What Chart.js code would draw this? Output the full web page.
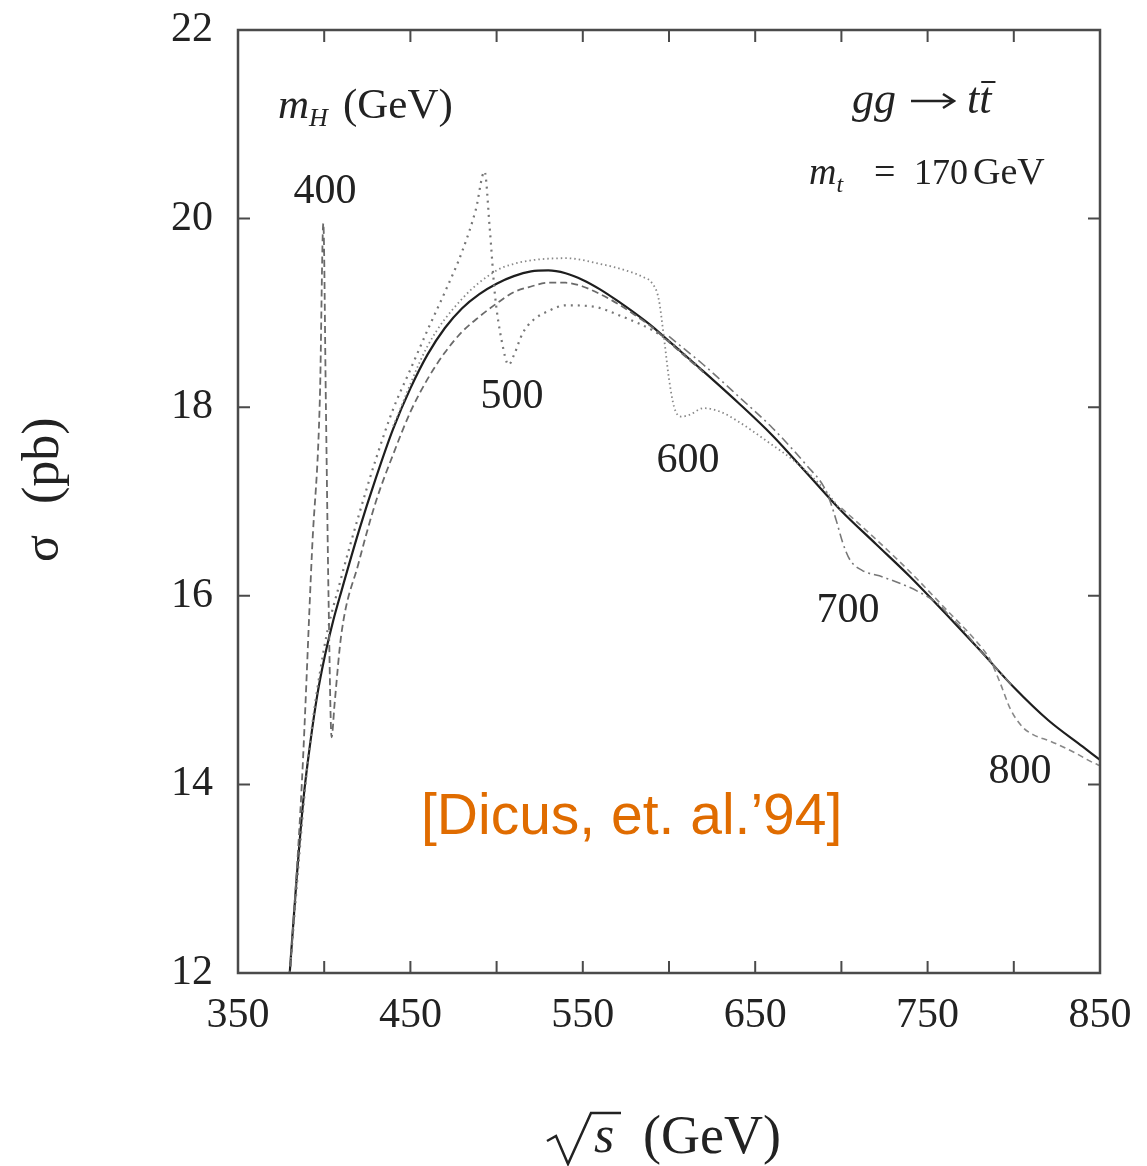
<!DOCTYPE html>
<html>
<head>
<meta charset="utf-8">
<script src="https://cdn.jsdelivr.net/npm/chart.js@4.4.1/dist/chart.umd.min.js"></script>
<style>
  html, body { margin: 0; padding: 0; background: #fff; }
</style>
</head>
<body>
<canvas id="chart" width="1147" height="1166"></canvas>
<script>
// sqrt(s) in GeV, sigma in pb
var sBase     = [380, 384, 388, 392, 396, 400, 405, 410, 420, 430, 440, 450, 460, 470, 480, 490, 500, 510, 520, 530, 540, 550, 560, 570, 580, 590, 600, 620, 640, 660, 680, 700, 720, 740, 760, 780, 800, 820, 840, 850];
var sigmaBase = [12.0, 13.0, 13.85, 14.45, 14.95, 15.33, 15.72, 16.05, 16.68, 17.25, 17.77, 18.2, 18.56, 18.84, 19.05, 19.2, 19.31, 19.39, 19.44, 19.45, 19.42, 19.35, 19.25, 19.13, 19.0, 18.86, 18.7, 18.38, 18.05, 17.7, 17.3, 16.9, 16.55, 16.2, 15.82, 15.43, 15.03, 14.68, 14.4, 14.26];

var s400     = [380, 387, 393, 397.5, 399.5, 401, 402.5, 404.3, 406, 410, 420, 430, 440, 450, 460, 470, 480, 490, 500, 510, 520, 530, 540, 550, 560, 570, 580, 590, 600, 620];
var sigma400 = [11.95, 14.0, 16.5, 18.1, 19.95, 18.0, 16.0, 14.5, 14.85, 15.6, 16.35, 17.0, 17.5, 17.95, 18.3, 18.58, 18.8, 18.96, 19.1, 19.22, 19.28, 19.32, 19.32, 19.28, 19.2, 19.1, 18.98, 18.85, 18.69, 18.37];

var s500     = [380, 390, 400, 410, 420, 430, 440, 450, 460, 470, 480, 488, 493, 496, 499, 503, 507, 510, 515, 521, 530, 540, 555, 573, 590, 600, 620];
var sigma500 = [12.0, 14.15, 15.45, 16.2, 16.85, 17.45, 17.98, 18.4, 18.82, 19.22, 19.65, 20.1, 20.5, 19.9, 19.2, 18.7, 18.45, 18.55, 18.78, 18.92, 19.02, 19.08, 19.07, 18.96, 18.82, 18.7, 18.38];

var s600     = [440, 460, 480, 500, 510, 521, 540, 560, 575, 585, 590, 594, 597, 600, 603, 607, 612, 620, 630, 640, 656, 676, 690, 700];
var sigma600 = [17.8, 18.65, 19.15, 19.45, 19.52, 19.56, 19.58, 19.52, 19.45, 19.38, 19.32, 19.15, 18.75, 18.3, 18.0, 17.9, 17.92, 17.99, 17.95, 17.85, 17.65, 17.38, 17.13, 16.9];

var s700     = [600, 620, 640, 660, 680, 690, 693.5, 697, 701, 705, 712, 724, 744, 757, 763, 770, 780, 800];
var sigma700 = [18.75, 18.45, 18.12, 17.78, 17.38, 17.15, 17.0, 16.8, 16.55, 16.38, 16.27, 16.2, 16.05, 15.9, 15.78, 15.65, 15.43, 15.03];

var s800     = [700, 720, 740, 760, 780, 786, 792, 798, 805, 812, 821, 836, 846, 850];
var sigma800 = [16.93, 16.6, 16.25, 15.87, 15.48, 15.33, 15.08, 14.8, 14.61, 14.52, 14.46, 14.33, 14.23, 14.2];

var xTicks = [350, 450, 550, 650, 750, 850];
var yTicks = [12, 14, 16, 18, 20, 22];
var higgsMasses = ['400', '500', '600', '700', '800'];

function pts(xs, ys) {
	return xs.map(function(x, i) { return {x: x, y: ys[i]}; });
}

var SERIF = '"Liberation Serif", "Times New Roman", serif';
var SANS = '"Liberation Sans", Arial, sans-serif';

function curve(xs, ys, color, width, dash) {
	return {
		data: pts(xs, ys),
		borderColor: color,
		borderWidth: width,
		borderDash: dash,
		pointRadius: 0,
		fill: false,
		showLine: true,
		cubicInterpolationMode: 'monotone'
	};
}

// frame, inward ticks and all the free text
var decor = {
	id: 'decor',
	afterDraw: function(chart) {
		var ctx = chart.ctx;
		var a = chart.chartArea;
		var sx = chart.scales.x, sy = chart.scales.y;
		ctx.save();
		ctx.strokeStyle = '#4a4a4a';
		ctx.lineWidth = 2.5;
		ctx.strokeRect(a.left, a.top, a.right - a.left, a.bottom - a.top);
		ctx.lineWidth = 2;
		var tl = 12;
		sx.ticks.forEach(function(t) {
			var px = sx.getPixelForValue(t.value);
			ctx.beginPath();
			ctx.moveTo(px, a.bottom); ctx.lineTo(px, a.bottom - tl);
			ctx.moveTo(px, a.top); ctx.lineTo(px, a.top + tl);
			ctx.stroke();
		});
		sy.ticks.forEach(function(t) {
			var py = sy.getPixelForValue(t.value);
			ctx.beginPath();
			ctx.moveTo(a.left, py); ctx.lineTo(a.left + tl, py);
			ctx.moveTo(a.right, py); ctx.lineTo(a.right - tl, py);
			ctx.stroke();
		});

		ctx.fillStyle = '#222';
		ctx.strokeStyle = '#222';
		ctx.textBaseline = 'alphabetic';
		ctx.textAlign = 'left';

		// curve labels
		var labelAt = [[325, 203], [512, 408], [688, 472], [848, 622], [1020, 783]];
		ctx.font = '42px ' + SERIF;
		ctx.textAlign = 'center';
		higgsMasses.forEach(function(m, i) {
			ctx.fillText(m, labelAt[i][0], labelAt[i][1]);
		});
		ctx.textAlign = 'left';

		// m_H (GeV)
		ctx.font = 'italic 43px ' + SERIF;
		ctx.fillText('m', 278, 118);
		var mw = ctx.measureText('m').width;
		ctx.font = 'italic 26px ' + SERIF;
		ctx.fillText('H', 278 + mw, 126);
		ctx.font = '43px ' + SERIF;
		ctx.fillText('(GeV)', 343, 118);

		// gg -> t tbar
		ctx.font = 'italic 44px ' + SERIF;
		ctx.fillText('gg', 852, 113);
		ctx.lineWidth = 2.5;
		ctx.beginPath();
		ctx.moveTo(911, 101); ctx.lineTo(953, 101);
		ctx.moveTo(943, 94); ctx.lineTo(954, 101); ctx.lineTo(943, 108);
		ctx.stroke();
		ctx.font = 'italic 44px ' + SERIF;
		ctx.fillText('tt', 967, 113);
		var tw = ctx.measureText('t').width;
		ctx.lineWidth = 2;
		ctx.beginPath();
		ctx.moveTo(967 + tw + 2, 82); ctx.lineTo(967 + 2 * tw + 4, 82);
		ctx.stroke();

		// m_t = 170 GeV
		ctx.font = 'italic 38px ' + SERIF;
		ctx.fillText('m', 809, 184);
		mw = ctx.measureText('m').width;
		ctx.font = 'italic 24px ' + SERIF;
		ctx.fillText('t', 809 + mw, 192);
		ctx.font = '38px ' + SERIF;
		ctx.fillText('=', 874, 184);
		ctx.font = '36px ' + SERIF;
		ctx.fillText('170', 914, 184);
		ctx.font = '38px ' + SERIF;
		ctx.fillText('GeV', 973, 184);

		// citation
		ctx.fillStyle = '#e06c00';
		ctx.font = '57px ' + SANS;
		ctx.fillText('[Dicus, et. al.\u201994]', 421, 834);

		// y title
		ctx.fillStyle = '#222';
		ctx.save();
		ctx.translate(42, 490);
		ctx.rotate(-Math.PI / 2);
		ctx.font = '50px ' + SERIF;
		ctx.fillText('\u03c3', -72, 16);
		ctx.font = '52px ' + SERIF;
		ctx.fillText('(pb)', -14, 16);
		ctx.restore();

		// x title: sqrt(s) (GeV)
		ctx.lineWidth = 2.5;
		ctx.beginPath();
		ctx.moveTo(547, 1141); ctx.lineTo(556, 1136);
		ctx.lineTo(568, 1164); ctx.lineTo(591, 1113); ctx.lineTo(621, 1113);
		ctx.stroke();
		ctx.font = 'italic 52px ' + SERIF;
		ctx.fillText('s', 594, 1152);
		ctx.font = '54px ' + SERIF;
		ctx.fillText('(GeV)', 643, 1153);
		ctx.restore();
	}
};

new Chart(document.getElementById('chart'), {
	type: 'scatter',
	data: {
		datasets: [
			curve(s400, sigma400, '#6a6a6a', 1.8, [7, 4]),
			curve(s500, sigma500, '#777', 2.2, [2, 5]),
			curve(s600, sigma600, '#888', 1.8, [1.5, 3]),
			curve(s700, sigma700, '#777', 1.6, [9, 4, 2, 4]),
			curve(s800, sigma800, '#888', 1.6, [6, 4]),
			curve(sBase, sigmaBase, '#1e1e1e', 2.2, [])
		]
	},
	options: {
		responsive: false,
		animation: false,
		layout: { padding: { top: 30, right: 47, left: 0, bottom: 0 } },
		plugins: {
			legend: { display: false },
			tooltip: { enabled: false }
		},
		scales: {
			x: {
				type: 'linear',
				min: 350,
				max: 850,
				grid: { display: false, drawTicks: false },
				border: { display: false },
				afterFit: function(scale) {
					scale.height = 193;
					scale.paddingLeft = 0;
					scale.paddingRight = 0;
				},
				ticks: {
					stepSize: 50,
					autoSkip: false,
					maxRotation: 0,
					padding: 18,
					color: '#222',
					font: { family: SERIF, size: 42 },
					callback: function(v) { return xTicks.indexOf(v) >= 0 ? String(v) : ''; }
				}
			},
			y: {
				min: 12,
				max: 22,
				grid: { display: false, drawTicks: false },
				border: { display: false },
				afterFit: function(scale) {
					scale.width = 238;
					scale.paddingTop = 0;
					scale.paddingBottom = 0;
				},
				ticks: {
					stepSize: 2,
					padding: 25,
					color: '#222',
					font: { family: SERIF, size: 42 },
					callback: function(v) { return yTicks.indexOf(v) >= 0 ? String(v) : ''; }
				}
			}
		}
	},
	plugins: [decor]
});
</script>
</body>
</html>
